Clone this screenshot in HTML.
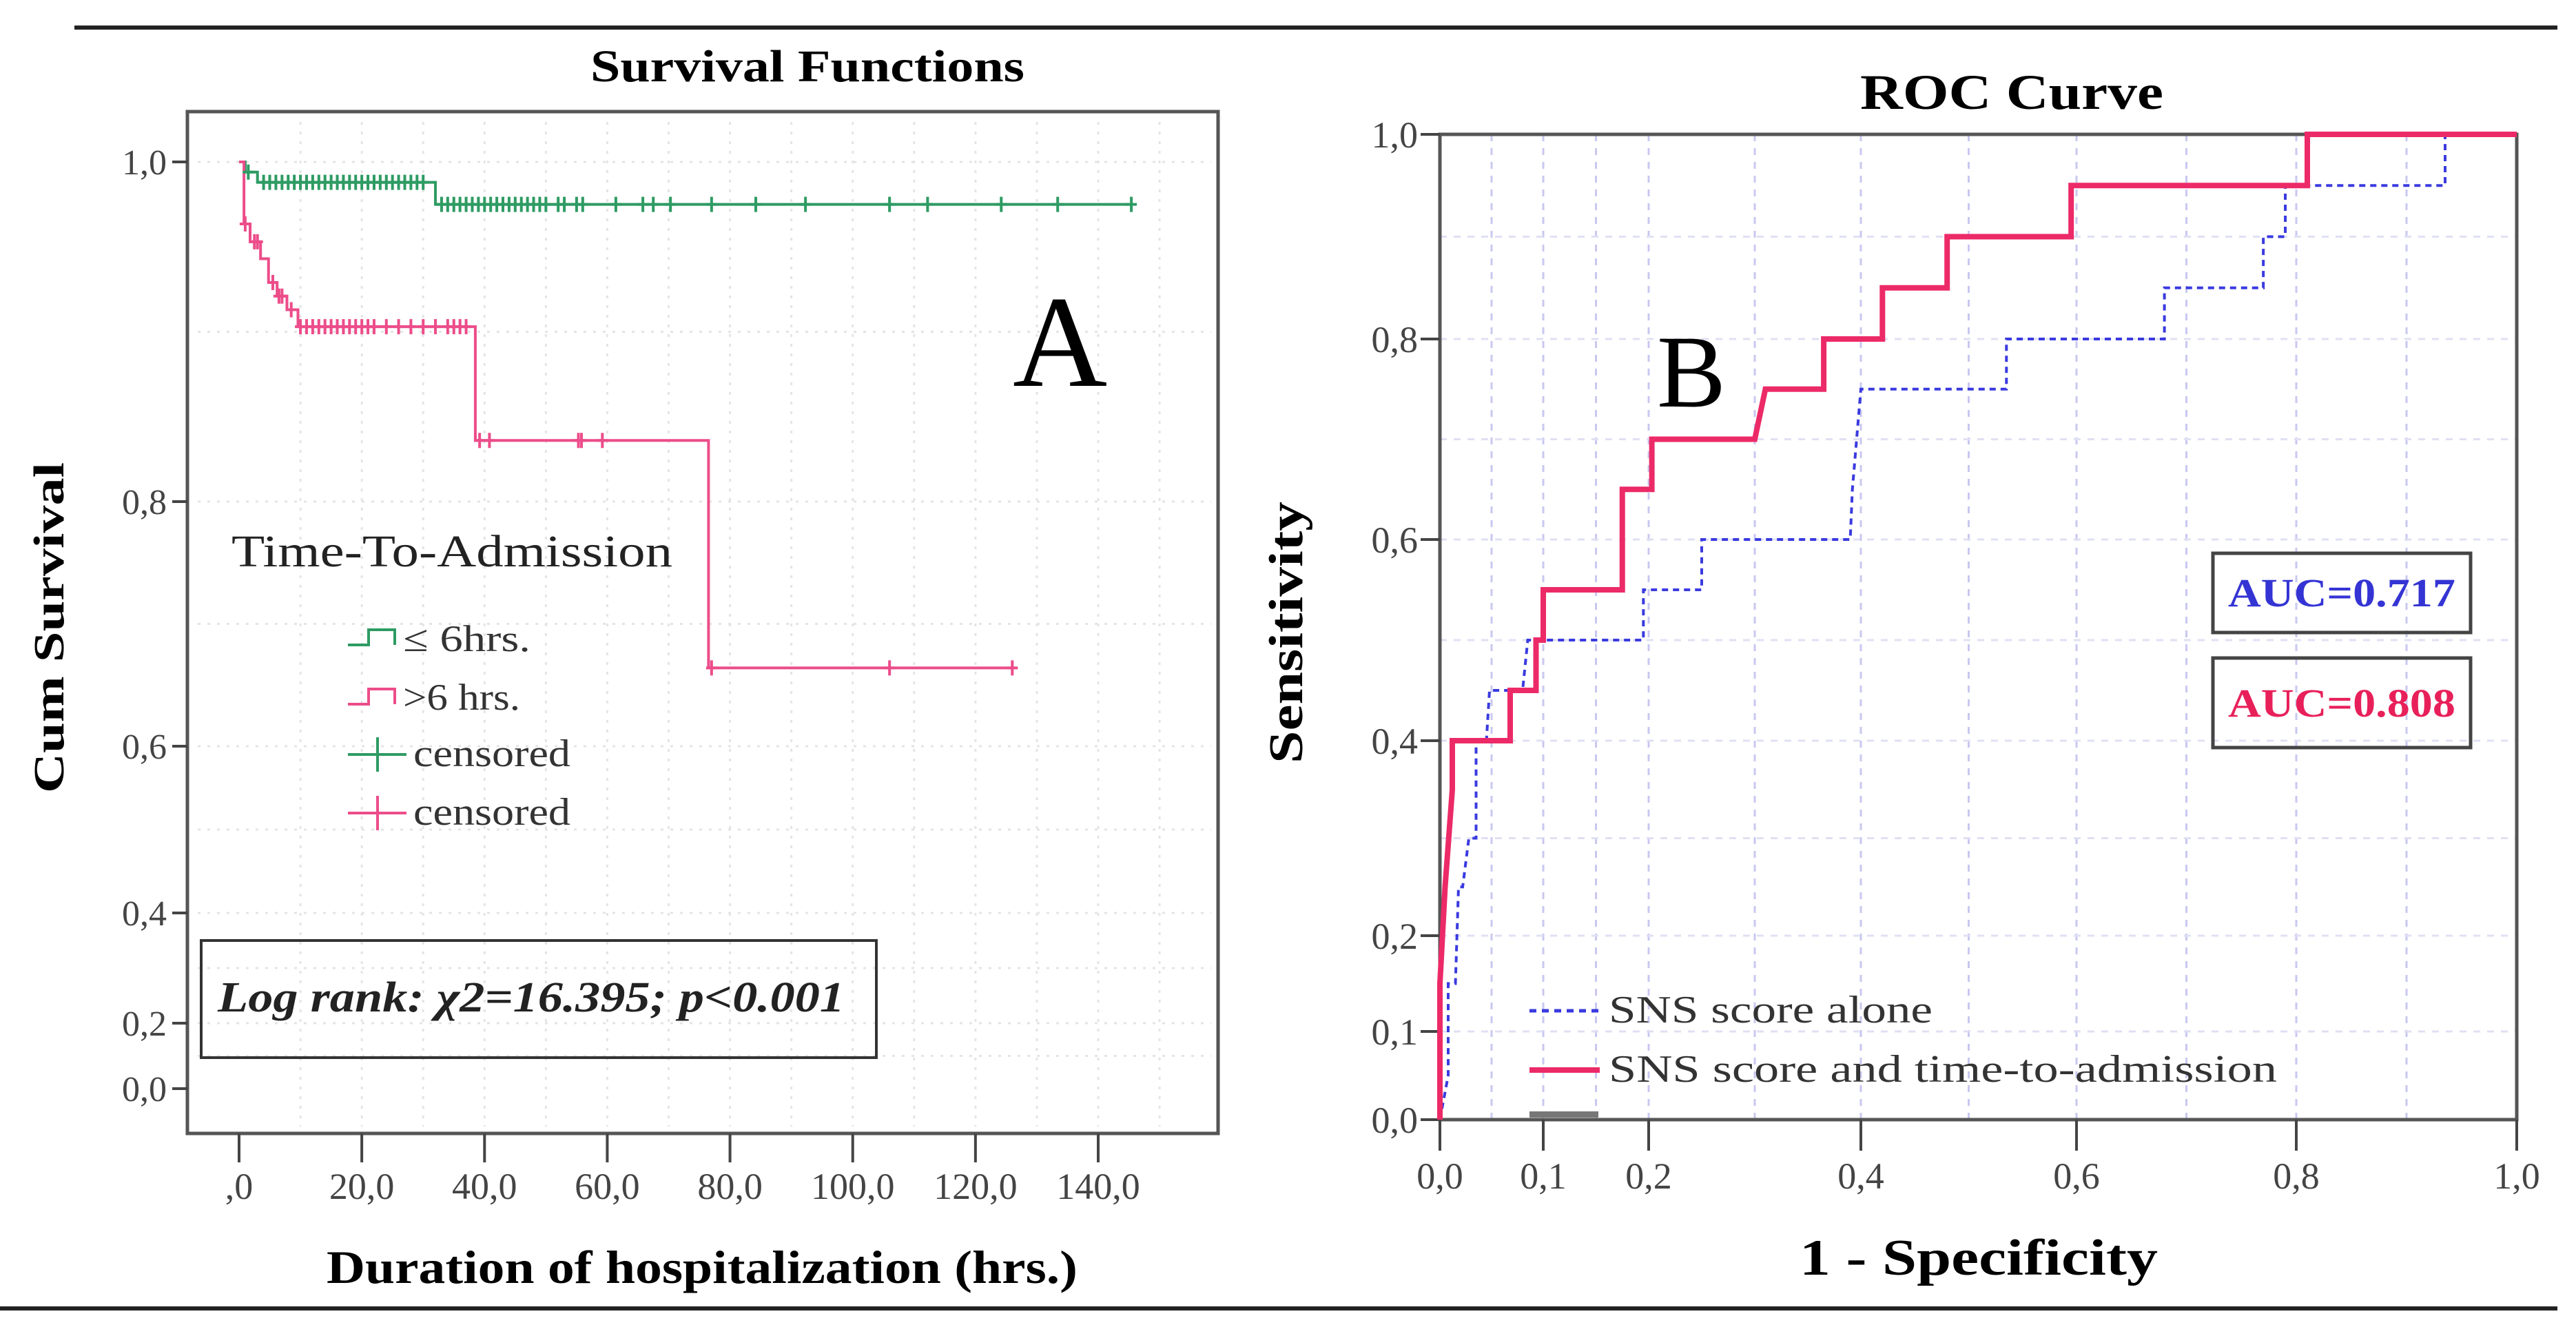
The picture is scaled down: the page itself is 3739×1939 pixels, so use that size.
<!DOCTYPE html>
<html><head><meta charset="utf-8">
<style>
html,body{margin:0;padding:0;background:#fff;}
svg{display:block;}
text{font-family:"Liberation Serif",serif;}
</style></head>
<body>
<svg id="fig" width="3739" height="1939" viewBox="0 0 3739 1939" xmlns="http://www.w3.org/2000/svg">
<line x1="108" y1="40" x2="3712" y2="40" stroke="#222" stroke-width="6"/>
<line x1="0" y1="1899" x2="3712" y2="1899" stroke="#222" stroke-width="6"/>

<g id="km">
<text x="1172" y="118" font-size="66" font-weight="bold" text-anchor="middle" textLength="630" lengthAdjust="spacingAndGlyphs">Survival Functions</text>
<text transform="translate(92,911) rotate(-90)" font-size="62" font-weight="bold" text-anchor="middle" textLength="480" lengthAdjust="spacingAndGlyphs">Cum Survival</text>
<text x="1019" y="1862" font-size="68" font-weight="bold" text-anchor="middle" textLength="1090" lengthAdjust="spacingAndGlyphs">Duration of hospitalization (hrs.)</text>
<g id="kmGrid"></g>
<g id="kmAxes"></g>
<g id="kmSeries"></g>
<text x="1470" y="560" font-size="190">A</text>
<text x="336" y="822" font-size="66" fill="#222" textLength="640" lengthAdjust="spacingAndGlyphs">Time-To-Admission</text>
<g>
<path d="M505 936 h30 v-22 h38 v22" fill="none" stroke="#2e9b63" stroke-width="4"/>
<text x="585" y="945" font-size="54" fill="#333" textLength="185" lengthAdjust="spacingAndGlyphs">≤ 6hrs.</text></g>
<g>
<path d="M505 1022 h30 v-22 h38 v22" fill="none" stroke="#ec4d8a" stroke-width="4"/>
<text x="585" y="1030" font-size="54" fill="#333" textLength="170" lengthAdjust="spacingAndGlyphs">&gt;6 hrs.</text></g>
<g>
<path d="M505 1095 h85 M548 1070 v50" stroke="#2e9b63" stroke-width="4"/>
<text x="600" y="1112" font-size="56" fill="#333" textLength="228" lengthAdjust="spacingAndGlyphs">censored</text></g>
<g>
<path d="M505 1180 h85 M548 1155 v50" stroke="#ec4d8a" stroke-width="4"/>
<text x="600" y="1197" font-size="56" fill="#333" textLength="228" lengthAdjust="spacingAndGlyphs">censored</text></g>
<rect x="292" y="1365" width="980" height="170" fill="none" stroke="#333" stroke-width="4"/>
<text x="316" y="1468" font-size="62" font-weight="bold" font-style="italic" fill="#222" textLength="910" lengthAdjust="spacingAndGlyphs">Log rank: χ2=16.395; p&lt;0.001</text>
</g>

<g id="roc">
<text x="2920" y="158" font-size="72" font-weight="bold" text-anchor="middle" textLength="440" lengthAdjust="spacingAndGlyphs">ROC Curve</text>
<text transform="translate(1890,918) rotate(-90)" font-size="70" font-weight="bold" text-anchor="middle" textLength="380" lengthAdjust="spacingAndGlyphs">Sensitivity</text>
<text x="2872" y="1850" font-size="74" font-weight="bold" text-anchor="middle" textLength="520" lengthAdjust="spacingAndGlyphs">1 - Specificity</text>
<g id="rocGrid"></g>
<g id="rocAxes"></g>
<g id="rocSeries"></g>
<text x="2405" y="590" font-size="150">B</text>
<rect x="3212" y="803" width="374" height="115" fill="none" stroke="#444" stroke-width="5"/>
<text x="3399" y="880" font-size="58" font-weight="bold" fill="#3434d4" text-anchor="middle" textLength="330" lengthAdjust="spacingAndGlyphs">AUC=0.717</text>
<rect x="3212" y="955" width="374" height="130" fill="none" stroke="#444" stroke-width="5"/>
<text x="3399" y="1040" font-size="58" font-weight="bold" fill="#e8205a" text-anchor="middle" textLength="330" lengthAdjust="spacingAndGlyphs">AUC=0.808</text>
<g>
<line x1="2220" y1="1467" x2="2322" y2="1467" stroke="#3a3ae0" stroke-width="5" stroke-dasharray="10,8"/>
<text x="2335" y="1484" font-size="56" fill="#333" textLength="470" lengthAdjust="spacingAndGlyphs">SNS score alone</text></g>
<g>
<line x1="2220" y1="1553" x2="2322" y2="1553" stroke="#ec2a68" stroke-width="8"/>
<text x="2335" y="1570" font-size="56" fill="#333" textLength="970" lengthAdjust="spacingAndGlyphs">SNS score and time-to-admission</text></g>
<rect x="2220" y="1613" width="100" height="9" fill="#777"/>
</g>

<script>
// ---- Survival (Kaplan-Meier) data ----
const kmYTickVals = [0.0, 0.2, 0.4, 0.6, 0.8, 1.0];
const kmYTickLabels = ["0,0", "0,2", "0,4", "0,6", "0,8", "1,0"];
const kmXTickVals = [0, 20, 40, 60, 80, 100, 120, 140];
const kmXTickLabels = [",0", "20,0", "40,0", "60,0", "80,0", "100,0", "120,0", "140,0"];
const greenTimes = [0, 1, 3, 32, 145];
const greenSurv = [1.0, 0.994, 0.988, 0.975, 0.975];
const pinkTimes = [0, 0.8, 1.8, 3.5, 4.8, 6.2, 7.8, 9.6, 38.5, 76.5, 126];
const pinkSurv = [1.0, 0.9635, 0.953, 0.943, 0.929, 0.921, 0.913, 0.903, 0.836, 0.664, 0.664];
const greenCensor = [1.5,4,5,6,7,8,9,10,11,12,13,14,15,16,17,18,19,20,21,22,23,24,25,26,27,28,29,30,33,34,35,36,37,38,39,40,41,42,43,44,45,46,47,48,49,50,52,53,55,56,61.4,65.8,67.5,70.3,77,84.2,92.3,106,112.2,124.2,133.4,145.4];
const pinkCensor = [1,2.5,3,5.5,6.5,7,8.5,10,11,12,13,14,15,16,17,18,19,20,21,22,24,26,28,30,32,34,35,36,37,39.2,40.8,55.3,55.8,59.2,77,106,126];

// ---- ROC data ----
const rocTickVals = [0.0, 0.1, 0.2, 0.4, 0.6, 0.8, 1.0];
const rocXTickLabels = ["0,0", "0,1", "0,2", "0,4", "0,6", "0,8", "1,0"];
const rocYTickLabels = ["0,0", "0,1", "0,2", "0,4", "0,6", "0,8", "1,0"];
const combinedFpr = [0,0,0.005,0.005,0.012,0.012,0.025,0.068,0.068,0.093,0.093,0.1,0.1,0.175,0.175,0.203,0.203,0.3,0.31,0.365,0.365,0.42,0.42,0.48,0.48,0.595,0.595,0.81,0.81,1.0];
const combinedTpr = [0,0.15,0.25,0.25,0.35,0.4,0.4,0.4,0.45,0.45,0.5,0.5,0.55,0.55,0.65,0.65,0.7,0.7,0.75,0.75,0.8,0.8,0.85,0.85,0.9,0.9,0.95,0.95,1.0,1.0];
const aloneFpr = [0,0.008,0.008,0.015,0.018,0.022,0.028,0.035,0.035,0.045,0.048,0.08,0.085,0.195,0.195,0.25,0.25,0.39,0.392,0.4,0.4,0.535,0.535,0.68,0.68,0.77,0.77,0.79,0.79,0.935,0.935,1.0];
const aloneTpr = [0,0.05,0.15,0.15,0.25,0.25,0.3,0.3,0.4,0.4,0.45,0.45,0.5,0.5,0.55,0.55,0.6,0.6,0.65,0.75,0.75,0.75,0.8,0.8,0.85,0.85,0.9,0.9,0.95,0.95,1.0,1.0];

const NS = "http://www.w3.org/2000/svg";
function mk(parent, tag, attrs) {
  const e = document.createElementNS(NS, tag);
  for (const k in attrs) e.setAttribute(k, attrs[k]);
  parent.appendChild(e);
  return e;
}
function piece(vals, pix) {
  return function (v) {
    for (let i = 0; i < vals.length - 1; i++) {
      if (v <= vals[i + 1] || i === vals.length - 2) {
        const t = (v - vals[i]) / (vals[i + 1] - vals[i]);
        return pix[i] + t * (pix[i + 1] - pix[i]);
      }
    }
  };
}

// ---- KM axes (nonlinear Y as in the original) ----
const kmL = 272, kmR = 1768, kmT = 162, kmB = 1645;
const kmY = piece(kmYTickVals, [1580, 1485, 1325, 1083, 728, 235]);
const kmX = t => 347 + t * (1594 - 347) / 140;
const kmGrid = document.getElementById("kmGrid");
const kmAxes = document.getElementById("kmAxes");
const kmSeries = document.getElementById("kmSeries");
for (let t = 10; t <= 150; t += 10) {
  const g = mk(kmGrid, "line", {x1: kmX(t), y1: kmT + 15, x2: kmX(t), y2: kmB - 10, stroke: "#e4e4e4", "stroke-width": 3, "stroke-dasharray": "4,10"});
  
  
}
[0.1, 0.3, 0.5, 0.7, 0.9, 0.2, 0.4, 0.6, 0.8, 1.0].forEach(v => {
  const g = mk(kmGrid, "line", {x1: kmL + 15, y1: kmY(v), x2: kmR - 10, y2: kmY(v), stroke: "#e4e4e4", "stroke-width": 3, "stroke-dasharray": "4,10"});
  
  
});
const kmFrame = mk(kmAxes, "rect", {x: kmL, y: kmT, width: kmR - kmL, height: kmB - kmT, fill: "none", stroke: "#555", "stroke-width": 5});


kmYTickVals.forEach((v, i) => {
  const tk = mk(kmAxes, "line", {x1: 250, y1: kmY(v), x2: kmL, y2: kmY(v), stroke: "#444", "stroke-width": 4});
  
  
  const lb = mk(kmAxes, "text", {x: 242, y: kmY(v) + 18, "font-size": 52, fill: "#444", "text-anchor": "end"});
  lb.textContent = kmYTickLabels[i];
  
  
});
kmXTickVals.forEach((v, i) => {
  const tk = mk(kmAxes, "line", {x1: kmX(v), y1: kmB, x2: kmX(v), y2: kmB + 42, stroke: "#444", "stroke-width": 4});
  
  
  const lb = mk(kmAxes, "text", {x: kmX(v), y: 1740, "font-size": 54, fill: "#444", "text-anchor": "middle"});
  lb.textContent = kmXTickLabels[i];
  
  
});
function stepPath(times, surv) {
  let d = "M" + kmX(times[0]) + " " + kmY(surv[0]);
  for (let i = 1; i < times.length; i++) {
    d += " H" + kmX(times[i]) + " V" + kmY(surv[i]);
  }
  return d;
}
function survAt(times, surv, t) {
  let s = surv[0];
  for (let i = 0; i < times.length; i++) if (times[i] <= t) s = surv[i];
  return s;
}
const gp = mk(kmSeries, "path", {d: stepPath(greenTimes, greenSurv), fill: "none", stroke: "#2e9b63", "stroke-width": 4});


const pp = mk(kmSeries, "path", {d: stepPath(pinkTimes, pinkSurv), fill: "none", stroke: "#ec4d8a", "stroke-width": 4});


greenCensor.forEach(t => {
  const y = kmY(survAt(greenTimes, greenSurv, t));
  const c = mk(kmSeries, "path", {d: `M${kmX(t) - 8} ${y} h16 M${kmX(t)} ${y - 11} v22`, stroke: "#2e9b63", "stroke-width": 4});
  
  
});
pinkCensor.forEach(t => {
  const y = kmY(survAt(pinkTimes, pinkSurv, t));
  const c = mk(kmSeries, "path", {d: `M${kmX(t) - 8} ${y} h16 M${kmX(t)} ${y - 11} v22`, stroke: "#ec4d8a", "stroke-width": 4});
  
  
});

// ---- ROC axes (nonlinear as in the original) ----
const rL = 2090, rR = 3653, rT = 195, rB = 1625;
const rX = piece(rocTickVals, [2090, 2240, 2393, 2701, 3014, 3333, 3653]);
const rY = piece(rocTickVals, [1625, 1497, 1358, 1075, 783, 492, 195]);
const rocGrid = document.getElementById("rocGrid");
const rocAxes = document.getElementById("rocAxes");
const rocSeries = document.getElementById("rocSeries");
[0.05, 0.1, 0.15, 0.2, 0.3, 0.4, 0.5, 0.6, 0.7, 0.8, 0.9].forEach(v => {
  const g = mk(rocGrid, "line", {x1: rX(v), y1: rT, x2: rX(v), y2: rB, stroke: "#c8c8f0", "stroke-width": 3, "stroke-dasharray": "10,10"});
  
  
});
[0.1, 0.2, 0.3, 0.4, 0.5, 0.6, 0.7, 0.8, 0.9].forEach(v => {
  const g = mk(rocGrid, "line", {x1: rL, y1: rY(v), x2: rR, y2: rY(v), stroke: "#e0e0f4", "stroke-width": 3, "stroke-dasharray": "10,10"});
  
  
});
const rf = mk(rocAxes, "rect", {x: rL, y: rT, width: rR - rL, height: rB - rT, fill: "none", stroke: "#555", "stroke-width": 5});


rocTickVals.forEach((v, i) => {
  const tk = mk(rocAxes, "line", {x1: rX(v), y1: rB, x2: rX(v), y2: rB + 45, stroke: "#444", "stroke-width": 4});
  
  
  const lb = mk(rocAxes, "text", {x: rX(v), y: 1725, "font-size": 54, fill: "#444", "text-anchor": "middle"});
  lb.textContent = rocXTickLabels[i];
  
  
  const ty = mk(rocAxes, "line", {x1: rL - 28, y1: rY(v), x2: rL, y2: rY(v), stroke: "#444", "stroke-width": 4});
  
  
  const ly = mk(rocAxes, "text", {x: rL - 32, y: rY(v) + 19, "font-size": 54, fill: "#444", "text-anchor": "end"});
  ly.textContent = rocYTickLabels[i];
  
  
});
function rocPts(f, t) { return f.map((v, i) => rX(v) + "," + rY(t[i])).join(" "); }
const al = mk(rocSeries, "polyline", {points: rocPts(aloneFpr, aloneTpr), fill: "none", stroke: "#3a3ae0", "stroke-width": 4, "stroke-dasharray": "9,7"});


const cb = mk(rocSeries, "polyline", {points: rocPts(combinedFpr, combinedTpr), fill: "none", stroke: "#ec2a68", "stroke-width": 8});


</script>
</svg>
</body></html>
